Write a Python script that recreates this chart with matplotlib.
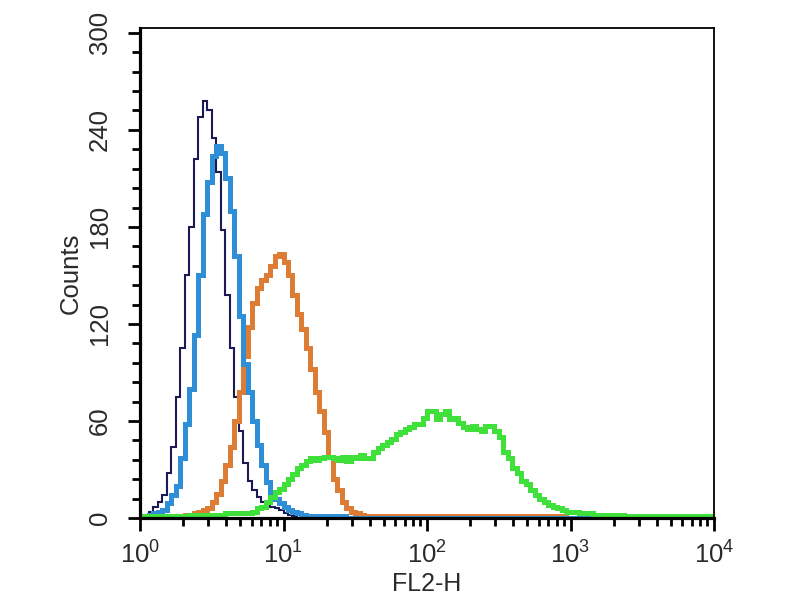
import numpy as np
import matplotlib
matplotlib.use("Agg")
import matplotlib.pyplot as plt
from matplotlib.ticker import MultipleLocator, LogLocator, NullFormatter

plt.rcParams['font.family'] = ['Liberation Sans', 'DejaVu Sans']
plt.rcParams['mathtext.fontset'] = 'custom'
plt.rcParams['mathtext.rm'] = 'Liberation Sans'
plt.rcParams['mathtext.it'] = 'Liberation Sans'

# channel grid: 128 log channels over 4 decades (10^0 .. 10^4)
n_channels = 128
decades = 4

# counts per channel (starting at channel 0)
navy_counts = [1, 2, 4, 7, 10, 14, 28, 44, 75, 105, 150, 180, 222, 248, 258, 252,
               235, 214, 178, 138, 105, 75, 54, 34, 23, 17, 13, 10, 9, 7, 6, 5,
               3, 2, 1]
blue_counts = [0, 1, 2, 3, 4, 5, 9, 14, 20, 37, 58, 80, 113, 150, 188, 208,
               224, 230, 226, 210, 190, 162, 125, 95, 78, 60, 45, 33, 22, 15, 12, 9,
               7, 5, 4, 3, 2, 1, 1, 1, 1, 1, 1, 1, 1, 1]
orange_counts = [0, 0, 0, 0, 0, 0, 0, 0, 1, 1, 2, 2, 3, 4, 5, 6,
                 10, 15, 23, 33, 44, 60, 78, 100, 118, 133, 142, 147, 150, 156, 162, 163,
                 158, 150, 138, 126, 117, 105, 92, 78, 66, 53, 38, 24, 17, 10, 6, 4,
                 3, 2, 1, 1, 1, 1, 1, 1, 1, 1, 1, 1, 1, 1, 1, 1,
                 1, 1, 1, 1, 1, 1, 1, 1, 1, 1, 1, 1, 1, 1, 1, 1,
                 1, 1, 1, 1, 1, 1, 1, 1, 1, 1, 1, 1, 1, 1, 1]
green_counts = [1, 1, 1, 1, 1, 1, 1, 1, 1, 1, 1, 2, 2, 2, 2, 2,
                2, 2, 2, 3, 3, 3, 3, 3, 3, 4, 6, 7, 10, 13, 16, 18,
                21, 24, 27, 31, 33, 35, 37, 36, 37, 38, 38, 37, 36, 38, 35, 38,
                37, 39, 37, 37, 41, 43, 45, 47, 49, 52, 53, 55, 56, 58, 58, 62,
                66, 66, 61, 64, 66, 61, 62, 59, 56, 55, 57, 55, 54, 57, 57, 54,
                50, 41, 37, 31, 28, 23, 21, 17, 14, 12, 10, 8, 7, 6, 5, 4,
                4, 4, 3, 3, 3, 2, 2, 2, 2, 2, 2, 2, 1, 1, 1, 1,
                1, 1, 1, 1, 1, 1, 1, 1, 1, 1, 1, 1, 1, 1, 1, 1]

series = [
    (navy_counts, '#1c1a55', 1.5),
    (orange_counts, '#dd7d35', 3.6),
    (blue_counts, '#2e8fd6', 3.6),
    (green_counts, '#3fe03a', 3.6),
]

y_ticks = [0, 60, 120, 180, 240, 300]

edges = 10.0 ** (np.arange(n_channels + 1) * decades / n_channels)

fig = plt.figure(figsize=(8, 6), dpi=100)
ax = fig.add_axes([0.175, 0.1367, 0.7175, 0.8166])

for counts, color, lw in series:
    full = np.zeros(n_channels)
    full[:len(counts)] = counts
    ax.stairs(full, edges, color=color, linewidth=lw, baseline=None)

ax.set_xscale('log')
ax.set_xlim(1, 1e4)
ax.set_ylim(0, 303)
ax.set_yticks(y_ticks)
ax.yaxis.set_minor_locator(MultipleLocator(12))
ax.xaxis.set_major_locator(LogLocator(base=10, numticks=10))
ax.xaxis.set_minor_locator(LogLocator(base=10, subs=np.arange(2, 10), numticks=50))
ax.xaxis.set_minor_formatter(NullFormatter())

for side in ['left', 'bottom']:
    ax.spines[side].set_linewidth(2.3)
for side in ['top', 'right']:
    ax.spines[side].set_linewidth(1.3)

ax.tick_params(axis='both', which='major', direction='out', length=9, width=2.0,
               labelsize=18.5, labelcolor='#2a2a2a', pad=8)
ax.tick_params(axis='both', which='minor', direction='out', length=5.5, width=2.0)
ax.tick_params(axis='y', which='major', labelrotation=90, pad=11)
for lab in ax.get_yticklabels():
    lab.set_va('center')

ax.set_xlabel('FL2-H', fontsize=18, color='#2a2a2a', labelpad=2)
ax.set_ylabel('Counts', fontsize=18.5, color='#2a2a2a', labelpad=4)

fig.savefig('out.png', dpi=100)
